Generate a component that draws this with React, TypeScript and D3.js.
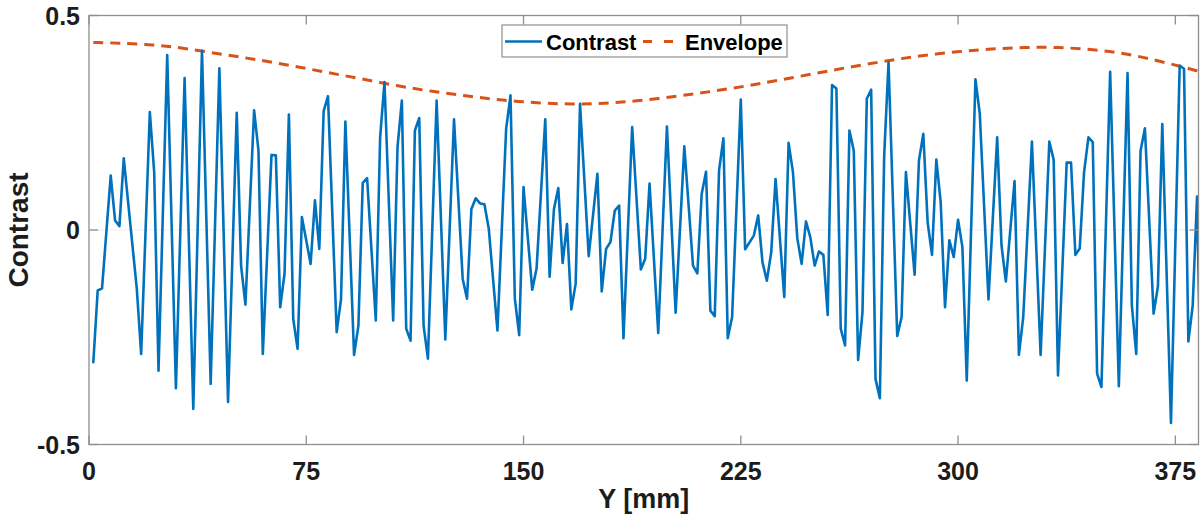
import * as d3 from "d3";

// sample positions along the scan (mm) and measured contrast
const SAMPLE_MM = [
  1.5, 3, 4.5, 7.5, 9, 10.5, 12, 13.5, 15, 16.5,
  18, 21, 22.5, 24, 27, 30, 33, 36, 39, 42,
  45, 48, 51, 52.5, 54, 57, 58.5, 60, 63, 64.5,
  66, 67.5, 69, 70.5, 72, 73.5, 76.5, 78, 79.5, 81,
  82.5, 85.5, 87, 88.5, 91.5, 93, 94.5, 96, 99, 100.5,
  102, 105, 106.5, 108, 109.5, 111, 112.5, 114, 115.5, 117,
  120, 123, 126, 129, 130.5, 132, 133.5, 135, 136.5, 138,
  141, 144, 145.5, 147, 148.5, 150, 153, 154.5, 157.5, 159,
  160.5, 162, 163.5, 165, 166.5, 168, 169.5, 172.5, 175.5, 177,
  178.5, 180, 181.5, 183, 184.5, 187.5, 190.5, 192, 193.5, 196.5,
  199.5, 202.5, 205.5, 208.5, 210, 211.5, 213, 214.5, 216, 217.5,
  219, 220.5, 222, 225, 226.5, 229.5, 231, 232.5, 234, 235.5,
  237, 240, 241.5, 243, 244.5, 246, 247.5, 249, 250.5, 252,
  253.5, 255, 256.5, 258, 259.5, 261, 262.5, 264, 265.5, 267,
  268.5, 270, 271.5, 273, 274.5, 276, 279, 280.5, 282, 285,
  286.5, 288, 289.5, 291, 292.5, 294, 295.5, 297, 298.5, 300,
  301.5, 303, 306, 307.5, 310.5, 313.5, 315, 316.5, 319.5, 321,
  322.5, 325.5, 328.5, 331.5, 333, 334.5, 337.5, 339, 340.5, 342,
  343.5, 345, 346.5, 348, 349.5, 352.5, 355.5, 358.5, 360, 361.5,
  363, 364.5, 367.5, 369, 370.5, 373.5, 376.5, 378, 379.5, 381,
  382.5, 384,
];

const CONTRAST = [
  -0.308, -0.141, -0.136, 0.127, 0.022, 0.009, 0.167, 0.065, -0.036, -0.137,
  -0.289, 0.275, 0.135, -0.328, 0.408, -0.369, 0.354, -0.417, 0.418, -0.359,
  0.377, -0.401, 0.273, -0.083, -0.174, 0.279, 0.185, -0.289, 0.175, 0.174,
  -0.18, -0.102, 0.269, -0.207, -0.277, 0.03, -0.079, 0.069, -0.044, 0.277,
  0.312, -0.238, -0.161, 0.253, -0.291, -0.223, 0.11, 0.121, -0.211, 0.216,
  0.345, -0.211, 0.193, 0.302, -0.23, -0.258, 0.232, 0.261, -0.223, -0.3,
  0.302, -0.255, 0.258, -0.114, -0.16, 0.049, 0.074, 0.062, 0.06, 0.003,
  -0.234, 0.236, 0.314, -0.16, -0.245, 0.1, -0.139, -0.09, 0.258, -0.109,
  0.049, 0.098, -0.077, 0.014, -0.185, -0.125, 0.294, -0.061, 0.131, -0.143,
  -0.044, -0.028, 0.045, 0.057, -0.252, 0.24, -0.092, -0.067, 0.108, -0.24,
  0.241, -0.193, 0.195, -0.083, -0.101, 0.084, 0.136, -0.188, -0.201, 0.139,
  0.214, -0.252, -0.203, 0.304, -0.045, -0.013, 0.034, -0.076, -0.118, -0.052,
  0.119, -0.156, 0.203, 0.135, -0.019, -0.079, 0.02, -0.017, -0.083, -0.05,
  -0.058, -0.198, 0.338, 0.33, -0.23, -0.269, 0.232, 0.185, -0.303, -0.192,
  0.306, 0.327, -0.347, -0.392, 0.174, 0.391, -0.247, -0.203, 0.135, -0.104,
  0.162, 0.224, 0.018, -0.058, 0.164, 0.065, -0.18, -0.024, -0.063, 0.024,
  -0.04, -0.351, 0.351, 0.271, -0.162, 0.216, -0.036, -0.12, 0.114, -0.291,
  -0.203, 0.206, -0.291, 0.206, 0.164, -0.339, 0.157, 0.157, -0.058, -0.043,
  0.135, 0.216, 0.205, -0.335, -0.366, 0.369, -0.364, 0.366, -0.176, -0.289,
  0.185, 0.237, -0.195, -0.131, 0.247, -0.45, 0.383, 0.376, -0.26, -0.176,
  0.078, -0.46,
];

// envelope read at a coarser set of positions
const ENVELOPE_MM = [
  1.5, 10, 22, 33, 47, 58.5, 70, 81.5, 93, 107, 118.5, 130, 141.5, 155, 166.5, 178, 189.5,
  203.5, 215, 226.5, 238, 251.5, 263.5, 275, 286.5, 300, 311.5, 323, 334.5, 346.5, 358.5,
  370, 381, 383,
];
const ENVELOPE = [
  0.437, 0.436, 0.432, 0.424, 0.408, 0.397, 0.383, 0.368, 0.354, 0.335, 0.323, 0.313, 0.303,
  0.296, 0.293, 0.295, 0.301, 0.312, 0.323, 0.335, 0.349, 0.366, 0.381, 0.394, 0.406, 0.416,
  0.422, 0.426, 0.426, 0.421, 0.411, 0.393, 0.374, 0.37,
];

const X_TICKS = [0, 75, 150, 225, 300, 375];
const Y_TICKS = [-0.5, 0, 0.5];
const Y_TICK_LABELS = ["-0.5", "0", "0.5"];

const W = 1200;
const H = 520;
const m = { top: 15.5, right: 1.5, bottom: 75.5, left: 89 };
const FONT = '"Liberation Sans", Arial, Helvetica, sans-serif';
const BLUE = "#0072BD";
const ORANGE = "#D95319";
const AXIS = "#8f8f8f";
const INK = "#1c1c1c";
const TICK = 9;

export default function App() {
  const x = d3.scaleLinear().domain([0, 383]).range([m.left, W - m.right]);
  const y = d3.scaleLinear().domain([-0.5, 0.5]).range([H - m.bottom, m.top]);
  const [x0, x1] = x.range();
  const [y0, y1] = y.range();

  const contrastPath = d3
    .line<number>()
    .x((_, i) => x(SAMPLE_MM[i]))
    .y((d) => y(d))(CONTRAST);

  const envelopePath = d3
    .line<number>()
    .x((_, i) => x(ENVELOPE_MM[i]))
    .y((d) => y(d))
    .curve(d3.curveBasis)(ENVELOPE);

  return (
    <svg
      width={W}
      height={H}
      style={{ position: "absolute", left: 0, top: 0, background: "#fff" }}
      fontFamily={FONT}
      fontWeight="bold"
    >
      <defs>
        <clipPath id="plot">
          <rect x={x0} y={y1} width={x1 - x0} height={y0 - y1} />
        </clipPath>
      </defs>

      {/* faint zero line */}
      <line x1={x0} x2={x1} y1={y(0)} y2={y(0)} stroke="#ededed" strokeWidth={1} />

      <g clipPath="url(#plot)">
        <path d={envelopePath ?? ""} fill="none" stroke={ORANGE} strokeWidth={3} strokeDasharray="10 7" />
        <path
          d={contrastPath ?? ""}
          fill="none"
          stroke={BLUE}
          strokeWidth={2.6}
          strokeLinejoin="round"
          strokeLinecap="round"
        />
      </g>

      {/* box */}
      <rect x={x0} y={y1} width={x1 - x0} height={y0 - y1} fill="none" stroke={AXIS} strokeWidth={1.3} />

      {/* x ticks, inward on bottom and top */}
      {X_TICKS.map((t) => (
        <g key={t}>
          <line x1={x(t)} x2={x(t)} y1={y0} y2={y0 - TICK} stroke={AXIS} strokeWidth={1.3} />
          <line x1={x(t)} x2={x(t)} y1={y1} y2={y1 + TICK} stroke={AXIS} strokeWidth={1.3} />
          <text x={x(t)} y={480} textAnchor="middle" fontSize={25} fill={INK}>
            {t}
          </text>
        </g>
      ))}

      {/* y ticks, inward on left and right */}
      {Y_TICKS.map((t, i) => (
        <g key={t}>
          <line x1={x0} x2={x0 + TICK} y1={y(t)} y2={y(t)} stroke={AXIS} strokeWidth={1.3} />
          <line x1={x1} x2={x1 - TICK} y1={y(t)} y2={y(t)} stroke={AXIS} strokeWidth={1.3} />
          <text x={80} y={y(t)} dy="0.36em" textAnchor="end" fontSize={25} fill={INK}>
            {Y_TICK_LABELS[i]}
          </text>
        </g>
      ))}

      {/* axis labels */}
      <text x={(x0 + x1) / 2} y={508} textAnchor="middle" fontSize={27} fill={INK}>
        Y [mm]
      </text>
      <text
        transform={`translate(28,${y(0)}) rotate(-90)`}
        textAnchor="middle"
        fontSize={28}
        fill={INK}
      >
        Contrast
      </text>

      {/* legend */}
      <g>
        <rect x={502} y={25} width={285} height={32} fill="#fff" stroke={AXIS} strokeWidth={1.2} />
        <line x1={505} x2={542} y1={41.5} y2={41.5} stroke={BLUE} strokeWidth={2.6} />
        <text x={546} y={49.5} fontSize={22} fill="#000">
          Contrast
        </text>
        <line
          x1={643}
          x2={673}
          y1={41.5}
          y2={41.5}
          stroke={ORANGE}
          strokeWidth={3}
          strokeDasharray="9 12"
        />
        <text x={685} y={49.5} fontSize={22} fill="#000">
          Envelope
        </text>
      </g>
    </svg>
  );
}
